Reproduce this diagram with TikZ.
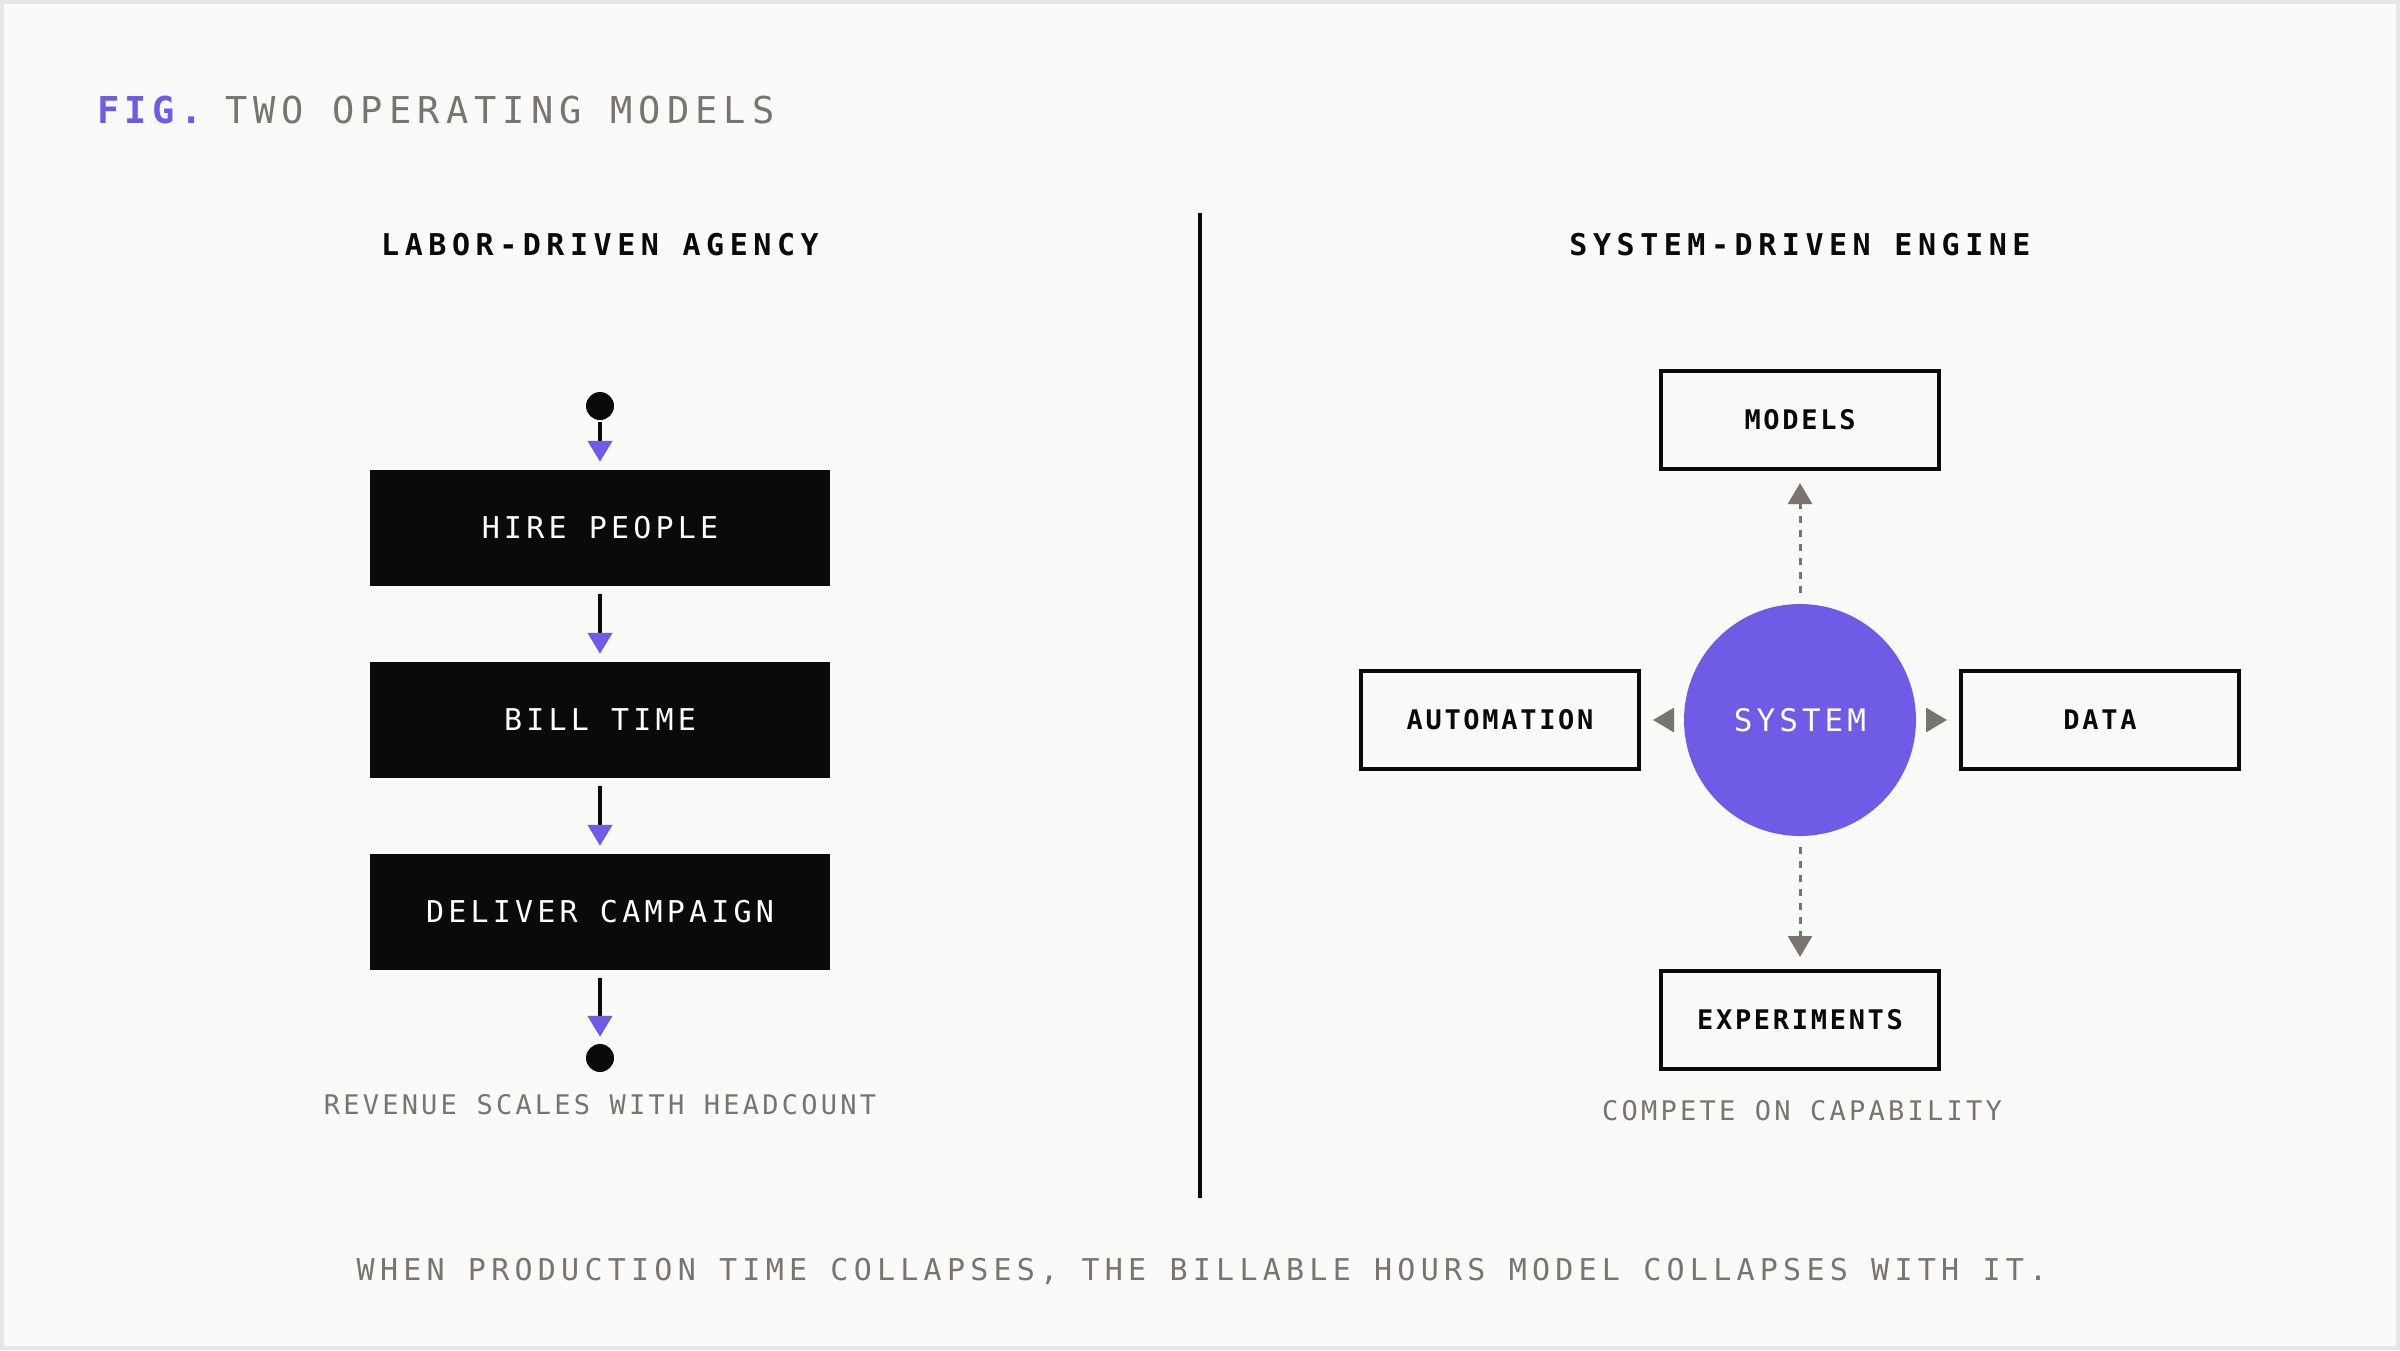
\documentclass[tikz,border=0pt]{standalone}
\usepackage{fontspec}
\usetikzlibrary{arrows.meta,positioning}
\newfontfamily\plexmono{DejaVu Sans Mono}
\definecolor{paper}{HTML}{FAFAF8}
\definecolor{frame}{HTML}{E6E6E4}
\definecolor{ink}{HTML}{0A0A0A}
\definecolor{muted}{HTML}{7A746E}
\definecolor{sysviolet}{HTML}{6E5CE6}
\tikzset{
  header/.style={anchor=base, text=ink, font=\plexmono\fontsize{30}{36}\selectfont\bfseries\addfontfeature{LetterSpace=18.5}},
  caption/.style={anchor=base, text=muted, font=\plexmono\fontsize{27}{32}\selectfont\addfontfeature{LetterSpace=12}},
  laborbox/.style={fill=ink, text=white, minimum width=460pt, minimum height=116pt, inner sep=0pt,
    font=\plexmono\fontsize{30}{36}\selectfont\addfontfeature{LetterSpace=14}},
  enginebox/.style={draw=ink, line width=4pt, fill=paper, text=ink, minimum width=278pt, minimum height=98pt, inner sep=0pt,
    font=\plexmono\fontsize{27}{32}\selectfont\bfseries\addfontfeature{LetterSpace=10}},
  terminal/.style={circle, fill=ink, minimum size=28pt, inner sep=0pt},
  flow/.style={draw=ink, line width=4.5pt, -{Triangle[width=24pt,length=21pt,color=sysviolet]}, shorten >=8pt, shorten <=8pt},
  feed/.style={draw=muted, line width=3pt, dash pattern=on 7pt off 7pt, -{Triangle[width=24pt,length=21pt,color=muted]}, shorten >=12pt, shorten <=11pt},
}
\begin{document}
\begin{tikzpicture}[x=100pt,y=-100pt]
  % frame and paper
  \fill [frame] (0,0) rectangle (24,13.5);
  \fill [paper] (0.04,0.04) rectangle (23.96,13.46);
  \useasboundingbox (0,0) rectangle (24,13.5);

  % title
  \node [anchor=base west, inner sep=0pt, text=sysviolet, font=\plexmono\fontsize{37}{44}\selectfont\bfseries\addfontfeature{LetterSpace=15}] (fig) at (0.97,1.23) {FIG.};
  \node [anchor=base west, inner sep=0pt, text=muted, font=\plexmono\fontsize{37}{44}\selectfont\addfontfeature{LetterSpace=16.5}] (title) at (2.25,1.23) {TWO OPERATING MODELS};

  % headers and divider
  \node [header] (laborhead) at (6.0,2.55) {LABOR-DRIVEN AGENCY};
  \node [header] (enginehead) at (18.0,2.55) {SYSTEM-DRIVEN ENGINE};
  \coordinate (divtop) at (12,2.13);
  \coordinate (divbot) at (12,11.98);
  \draw [ink, line width=4pt] (divtop) -- (divbot);

  % labor-driven agency
  \node [terminal] (start) at (6,4.06) {};
  \node [laborbox] (hire) at (6,5.28) {HIRE PEOPLE};
  \node [laborbox] (bill) at (6,7.20) {BILL TIME};
  \node [laborbox] (deliver) at (6,9.12) {DELIVER CAMPAIGN};
  \node [terminal] (stop) at (6,10.58) {};
  \draw [flow, shorten <=2pt] (start) -- (hire);
  \draw [flow] (hire) -- (bill);
  \draw [flow] (bill) -- (deliver);
  \draw [flow, shorten >=7pt] (deliver) -- (stop);
  \node [caption] (revenue) at (6.0,11.14) {REVENUE SCALES WITH HEADCOUNT};

  % system-driven engine
  \node [circle, fill=sysviolet, minimum size=232pt, inner sep=0pt, text=white,
    font=\plexmono\fontsize{31}{36}\selectfont\addfontfeature{LetterSpace=13}] (system) at (18,7.2) {SYSTEM};
  \node [enginebox] (models) at (18,4.2) {MODELS};
  \node [enginebox] (automation) at (15,7.2) {AUTOMATION};
  \node [enginebox] (data) at (21,7.2) {DATA};
  \node [enginebox] (experiments) at (18,10.2) {EXPERIMENTS};
  \draw [feed] (system) -- (models);
  \draw [feed] (system) -- (automation);
  \draw [feed] (system) -- (data);
  \draw [feed] (system) -- (experiments);
  \node [caption] (compete) at (18.02,11.2) {COMPETE ON CAPABILITY};

  % closing line
  \node [anchor=base, text=muted, font=\plexmono\fontsize{30}{36}\selectfont\addfontfeature{LetterSpace=17.5}] (closing) at (12.02,12.8)
    {WHEN PRODUCTION TIME COLLAPSES, THE BILLABLE HOURS MODEL COLLAPSES WITH IT.};
\end{tikzpicture}
\end{document}
